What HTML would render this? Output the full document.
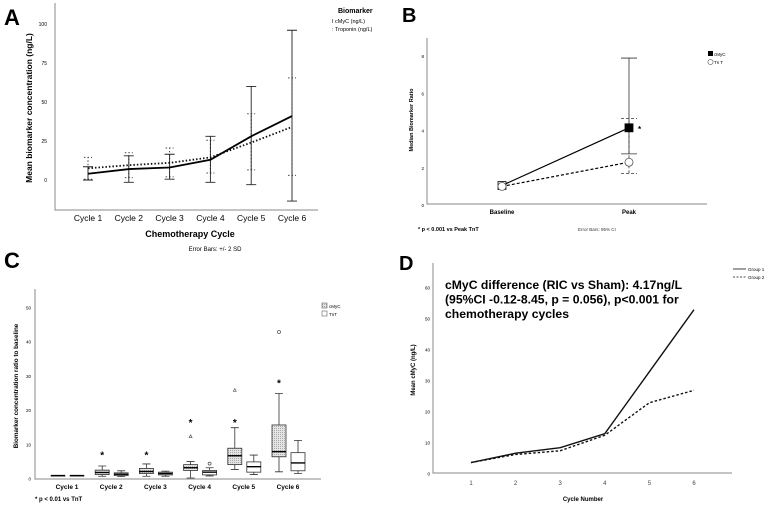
<!DOCTYPE html>
<html><head><meta charset="utf-8"><style>
html,body{margin:0;padding:0;background:#fff;width:776px;height:513px;overflow:hidden}
text{font-family:"Liberation Sans",sans-serif}
</style></head><body>
<svg id="fig" width="776" height="513" viewBox="0 0 776 513" xmlns="http://www.w3.org/2000/svg">
<g id="pA"></g>
<g id="pB"></g>
<g id="pC"></g>
<g id="pD"></g>
</svg>
<script>
// Panel A data
const aCats = ["Cycle 1","Cycle 2","Cycle 3","Cycle 4","Cycle 5","Cycle 6"];
const aTicks = [0,25,50,75,100];
const aMyc = [4,7,8,13,28,41];
const aMycLo = [0,-1.5,0.5,-1.5,-3,-13.5];
const aMycHi = [8.5,15.5,16.5,28,60,96];
const aTrop = [7.5,9.5,11,14.5,24,34];
const aTropLo = [0.5,1.5,2,4.5,6.5,3];
const aTropHi = [14.5,17.5,20.5,25.5,42.5,65.5];
// Panel B data
const bCats = ["Baseline","Peak"];
const bTicks = [0,2,4,6,8];
const bMyc = [1.05,4.15];
const bMycCI = [[null,null],[2.75,7.9]];
const bTnt = [1.0,2.3];
const bTntCI = [[null,null],[1.7,4.65]];
// Panel C data [low,q1,med,q3,high]
const cCats = ["Cycle 1","Cycle 2","Cycle 3","Cycle 4","Cycle 5","Cycle 6"];
const cTicks = [0,10,20,30,40,50];
const cMycBox = [[1,1,1,1,1],[0.8,1.3,1.9,2.6,3.8],[0.8,1.6,2.2,3.1,4.4],[0.3,2.5,3.3,4.2,5.1],[2.8,4.2,6.8,9,15],[2.1,6.5,8,15.8,25]];
const cTntBox = [[1,1,1,1,1],[0.7,1.0,1.4,1.8,2.4],[0.8,1.2,1.6,2.0,2.3],[0.9,1.2,2.0,2.5,3.3],[1.3,2,3.6,5,7],[1.6,2.4,4.7,7.7,11.3]];
const cMycStars = [null,7.5,7.5,17,17,28.5];
const cMycTri = [null,null,null,12.5,26,null];
const cMycCirc = [null,null,null,null,null,43];
const cTntCirc = [null,null,null,4.5,null,null];
// Panel D data
const dCats = [1,2,3,4,5,6];
const dTicks = [0,10,20,30,40,50,60];
const dG1 = [3.7,6.7,8.5,13,33,53];
const dG2 = [3.7,6.3,7.5,12.5,23,27];

const NS="http://www.w3.org/2000/svg";
function mk(parent,tag,attrs,txt){const e=document.createElementNS(NS,tag);for(const k in attrs)e.setAttribute(k,attrs[k]);if(txt!==undefined)e.textContent=txt;parent.appendChild(e);return e;}

// ---------- Panel A ----------
(function(){
const g=document.getElementById('pA');
const y=v=>180-1.56*v, x=i=>88+40.8*i;
let t=mk(g,'text',{x:4,y:25,'font-size':22,'font-weight':'bold'},'A');

let ax=mk(g,'path',{d:'M55,3 V210 H318',stroke:'#888',fill:'none','stroke-width':1});

aTicks.forEach(v=>{let e=mk(g,'text',{x:47,y:y(v)+2,'font-size':5,'text-anchor':'end'},v);
});
aCats.forEach((c,i)=>{let e=mk(g,'text',{x:x(i),y:221,'font-size':8.5,'text-anchor':'middle'},c);
});
t=mk(g,'text',{x:190,y:237,'font-size':9,'font-weight':'bold','text-anchor':'middle'},'Chemotherapy Cycle');

t=mk(g,'text',{x:215,y:251,'font-size':6,'text-anchor':'middle'},'Error Bars: +/- 2 SD');

t=mk(g,'text',{x:0,y:0,'font-size':8.5,'font-weight':'bold','text-anchor':'middle',transform:'translate(32,108) rotate(-90)'},'Mean biomarker concentration (ng/L)');

aTrop.forEach((v,i)=>{const xx=x(i);
let e=mk(g,'path',{d:`M${xx},${y(aTropLo[i])} V${y(aTropHi[i])} M${xx-4},${y(aTropLo[i])} h8 M${xx-4},${y(aTropHi[i])} h8`,stroke:'#444','stroke-width':1,'stroke-dasharray':'1.5,2',fill:'none'});
});
aMyc.forEach((v,i)=>{const xx=x(i);
let e=mk(g,'path',{d:`M${xx},${y(aMycLo[i])} V${y(aMycHi[i])} M${xx-5},${y(aMycLo[i])} h10 M${xx-5},${y(aMycHi[i])} h10`,stroke:'#222','stroke-width':0.9,fill:'none'});
});
let l=mk(g,'polyline',{points:aTrop.map((v,i)=>x(i)+','+y(v)).join(' '),fill:'none',stroke:'#111','stroke-width':1.8,'stroke-dasharray':'1.5,2'});

l=mk(g,'polyline',{points:aMyc.map((v,i)=>x(i)+','+y(v)).join(' '),fill:'none',stroke:'#000','stroke-width':1.8});

t=mk(g,'text',{x:338,y:13,'font-size':7,'font-weight':'bold'},'Biomarker');

t=mk(g,'text',{x:332,y:23,'font-size':5.5},'I  cMyC (ng/L)');

t=mk(g,'text',{x:332,y:31,'font-size':5.5},':  Troponin (ng/L)');

})();

// ---------- Panel B ----------
(function(){
const g=document.getElementById('pB');
const y=v=>205-18.6*v, x=i=>502+127*i;
let t=mk(g,'text',{x:402,y:22,'font-size':20,'font-weight':'bold'},'B');

let ax=mk(g,'path',{d:'M427,38 V204 H707',stroke:'#888',fill:'none','stroke-width':1});

bTicks.forEach(v=>{let e=mk(g,'text',{x:424,y:y(v)+2,'font-size':4.5,'text-anchor':'end'},v);
});
bCats.forEach((c,i)=>{let e=mk(g,'text',{x:x(i),y:214,'font-size':6,'font-weight':'bold','text-anchor':'middle'},c);
});
t=mk(g,'text',{x:0,y:0,'font-size':5.5,'font-weight':'bold','text-anchor':'middle',transform:'translate(413,120) rotate(-90)'},'Median Biomarker Ratio');

bMycCI.forEach((ci,i)=>{if(ci[0]===null)return;const xx=x(i);
let e=mk(g,'path',{d:`M${xx},${y(ci[0])} V${y(ci[1])} M${xx-8},${y(ci[0])} h16 M${xx-8},${y(ci[1])} h16`,stroke:'#333',fill:'none','stroke-width':0.8});
});
bTntCI.forEach((ci,i)=>{if(ci[0]===null)return;const xx=x(i);
let e=mk(g,'path',{d:`M${xx},${y(ci[0])} V${y(ci[1])} M${xx-8},${y(ci[0])} h16 M${xx-8},${y(ci[1])} h16`,stroke:'#333',fill:'none','stroke-width':0.8,'stroke-dasharray':'3,2'});
});
let l=mk(g,'polyline',{points:bTnt.map((v,i)=>x(i)+','+y(v)).join(' '),fill:'none',stroke:'#000','stroke-width':1.2,'stroke-dasharray':'3,2'});

l=mk(g,'polyline',{points:bMyc.map((v,i)=>x(i)+','+y(v)).join(' '),fill:'none',stroke:'#000','stroke-width':1.2});

bMyc.forEach((v,i)=>{let e=mk(g,'rect',{x:x(i)-4,y:y(v)-4,width:8,height:8,fill:i?'#000':'#fff',stroke:'#000','stroke-width':0.8});
});
bTnt.forEach((v,i)=>{let e=mk(g,'circle',{cx:x(i),cy:y(v),r:4,fill:'#fff',stroke:'#555','stroke-width':0.8});
});
t=mk(g,'text',{x:x(1)+9,y:y(bMyc[1])+4,'font-size':8,'font-weight':'bold'},'*');

let r=mk(g,'rect',{x:708,y:51,width:5,height:5,fill:'#000'});

t=mk(g,'text',{x:714,y:56,'font-size':4.5},'cMyC');
r=mk(g,'circle',{cx:710.5,cy:62,r:2.6,fill:'#fff',stroke:'#555','stroke-width':0.6});

t=mk(g,'text',{x:714,y:64,'font-size':4.5},'Tn T');
t=mk(g,'text',{x:418,y:231,'font-size':5.5,'font-weight':'bold'},'* p < 0.001 vs Peak TnT');

t=mk(g,'text',{x:578,y:231,'font-size':4.5,fill:'#333'},'Error Bars: 95% CI');

})();

// ---------- Panel C ----------
(function(){
const g=document.getElementById('pC');
const y=v=>479-3.42*v, x=i=>67+44.2*i;
const defs=mk(document.getElementById('fig'),'defs',{});
const pat=mk(defs,'pattern',{id:'hatch',width:2,height:2,patternUnits:'userSpaceOnUse'});
mk(pat,'rect',{width:2,height:2,fill:'#e4e4e4'});mk(pat,'rect',{width:1,height:1,fill:'#aaa'});
let t=mk(g,'text',{x:4,y:268,'font-size':22,'font-weight':'bold'},'C');

let ax=mk(g,'path',{d:'M35,289 V479 H321',stroke:'#888',fill:'none','stroke-width':1});

cTicks.forEach(v=>{let e=mk(g,'text',{x:31,y:y(v)+1.5,'font-size':4.5,'text-anchor':'end'},v);
});
cCats.forEach((c,i)=>{let e=mk(g,'text',{x:x(i),y:489,'font-size':6.5,'font-weight':'bold','text-anchor':'middle'},c);
});
t=mk(g,'text',{x:0,y:0,'font-size':6.3,'font-weight':'bold','text-anchor':'middle',transform:'translate(18,386) rotate(-90)'},'Biomarker concentration ratio to baseline');

function box(xc,b,fill,name){
 const w=14;
 let e=mk(g,'path',{d:`M${xc},${y(b[0])} V${y(b[1])} M${xc},${y(b[3])} V${y(b[4])} M${xc-4},${y(b[0])} h8 M${xc-4},${y(b[4])} h8`,stroke:'#333','stroke-width':0.8,fill:'none'});
 
 e=mk(g,'rect',{x:xc-w/2,y:y(b[3]),width:w,height:Math.max(0.5,y(b[1])-y(b[3])),fill:fill,stroke:'#333','stroke-width':0.8});
 
 e=mk(g,'line',{x1:xc-w/2,x2:xc+w/2,y1:y(b[2]),y2:y(b[2]),stroke:'#000','stroke-width':1.4});
 
}
cMycBox.forEach((b,i)=>box(x(i)-9,b,'url(#hatch)','cmyc'));
cTntBox.forEach((b,i)=>box(x(i)+10,b,'#fff','tnt'));
cMycStars.forEach((v,i)=>{if(v===null)return;let e=mk(g,'text',{x:x(i)-9,y:y(v)+5,'font-size':10,'font-weight':'bold','text-anchor':'middle'},'*');
});
cMycTri.forEach((v,i)=>{if(v===null)return;const xx=x(i)-9,yy=y(v);let e=mk(g,'path',{d:`M${xx},${yy-1.5} l1.5,2.8 h-3 z`,fill:'none',stroke:'#444','stroke-width':0.6});
});
cMycCirc.forEach((v,i)=>{if(v===null)return;let e=mk(g,'circle',{cx:x(i)-9,cy:y(v),r:1.5,fill:'none',stroke:'#444','stroke-width':0.7});
});
cTntCirc.forEach((v,i)=>{if(v===null)return;let e=mk(g,'circle',{cx:x(i)+10,cy:y(v),r:1.5,fill:'none',stroke:'#444','stroke-width':0.7});
});
let r=mk(g,'rect',{x:322,y:303,width:5,height:5,fill:'url(#hatch)',stroke:'#444','stroke-width':0.5});

t=mk(g,'text',{x:329,y:308,'font-size':4.5},'cMyC');
r=mk(g,'rect',{x:322,y:311,width:5,height:5,fill:'#fff',stroke:'#444','stroke-width':0.5});

t=mk(g,'text',{x:329,y:316,'font-size':4.5},'TnT');
t=mk(g,'text',{x:35,y:501,'font-size':6,'font-weight':'bold'},'* p < 0.01 vs TnT');

})();

// ---------- Panel D ----------
(function(){
const g=document.getElementById('pD');
const y=v=>474-3.1*v, x=c=>471+44.6*(c-1);
let t=mk(g,'text',{x:399,y:270,'font-size':20,'font-weight':'bold'},'D');

let ax=mk(g,'path',{d:'M433,263 V473 H732',stroke:'#888',fill:'none','stroke-width':1});

dTicks.forEach(v=>{let e=mk(g,'text',{x:430,y:y(v)+1.5,'font-size':4.5,'text-anchor':'end'},v);
});
dCats.forEach(c=>{let e=mk(g,'text',{x:x(c),y:485,'font-size':6,fill:'#444','text-anchor':'middle'},c);
});
t=mk(g,'text',{x:583,y:501,'font-size':6,'font-weight':'bold','text-anchor':'middle'},'Cycle Number');

t=mk(g,'text',{x:0,y:0,'font-size':6,'font-weight':'bold','text-anchor':'middle',transform:'translate(415,370) rotate(-90)'},'Mean cMyC (ng/L)');

['cMyC difference (RIC vs Sham): 4.17ng/L','(95%CI -0.12-8.45, p = 0.056), p<0.001 for','chemotherapy cycles'].forEach((s,i)=>{
let e=mk(g,'text',{x:445,y:289+14.5*i,'font-size':12.2,'font-weight':'bold'},s);
});
let l=mk(g,'polyline',{points:dG2.map((v,i)=>x(dCats[i])+','+y(v)).join(' '),fill:'none',stroke:'#111','stroke-width':1.4,'stroke-dasharray':'2.5,2'});

l=mk(g,'polyline',{points:dG1.map((v,i)=>x(dCats[i])+','+y(v)).join(' '),fill:'none',stroke:'#111','stroke-width':1.4});

l=mk(g,'line',{x1:733,x2:746,y1:269,y2:269,stroke:'#111','stroke-width':0.8});

t=mk(g,'text',{x:748,y:271,'font-size':4.5},'Group 1');
l=mk(g,'line',{x1:733,x2:746,y1:277,y2:277,stroke:'#111','stroke-width':0.8,'stroke-dasharray':'2,1.5'});

t=mk(g,'text',{x:748,y:279,'font-size':4.5},'Group 2');
})();
</script>
</body></html>
